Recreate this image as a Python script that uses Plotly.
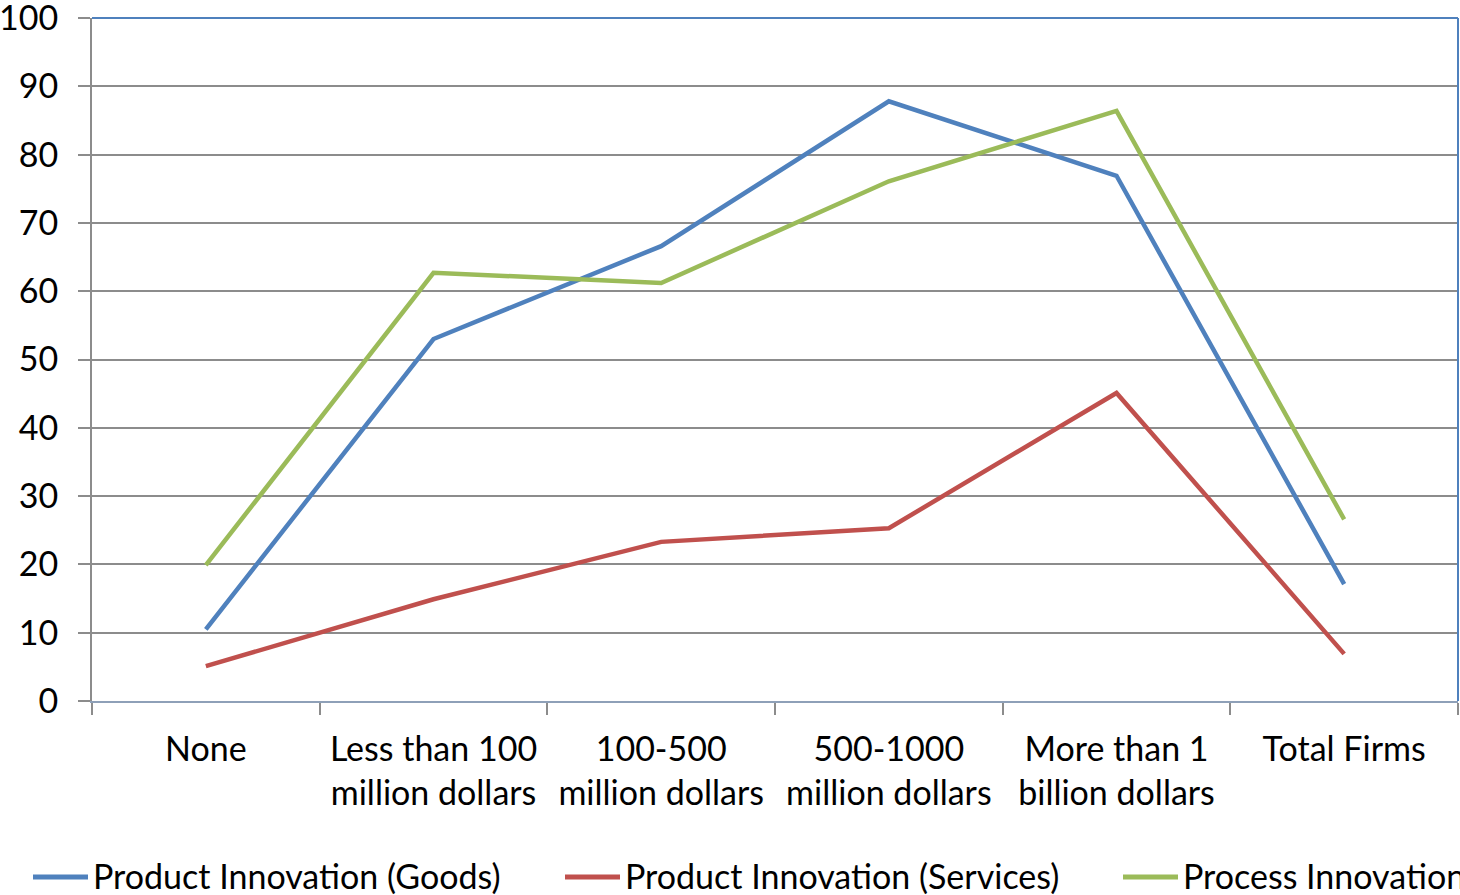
import plotly.graph_objects as go

categories = ["None", "Less than 100<br>million dollars", "100-500<br>million dollars",
              "500-1000<br>million dollars", "More than 1<br>billion dollars", "Total Firms"]
goods = [10.5, 53.0, 66.6, 87.8, 76.9, 17.1]
services = [5.1, 14.9, 23.3, 25.3, 45.1, 6.9]
process = [19.9, 62.7, 61.2, 76.1, 86.4, 26.6]
series_names = ["Product Innovation (Goods)", "Product Innovation (Services)", "Process Innovation"]
colors = ["#4F81BD", "#C0504D", "#9BBB59"]
y_ticks = list(range(0, 101, 10))

FONT = "Lato"
FS = 34

fig = go.Figure()
for name, vals, c in zip(series_names, [goods, services, process], colors):
    fig.add_trace(go.Scatter(x=categories, y=vals, mode="lines", name=name,
                             line=dict(color=c, width=4.5), showlegend=False))

fig.update_layout(
    width=1460, height=895,
    margin=dict(l=92, r=2, t=18, b=194),
    plot_bgcolor="white", paper_bgcolor="white",
    font=dict(family=FONT, size=FS, color="black"),
    xaxis=dict(type="category", range=[-0.5, 5.5], tickson="boundaries", ticks="outside",
               ticklen=12, tickcolor="#8C8C8C", tickwidth=2, showline=True,
               linecolor="#8EA0B8", linewidth=2, showgrid=False, ticklabelstandoff=17,
               automargin=False, ticklabeloverflow="allow",
               tickfont=dict(family=FONT, size=FS)),
    yaxis=dict(range=[0, 100], tickvals=y_ticks, ticks="outside", ticklen=12,
               tickcolor="#8C8C8C", tickwidth=2, showline=True, linecolor="#8C8C8C",
               linewidth=2, gridcolor="#8C8C8C", gridwidth=1.5, zeroline=False,
               ticklabelstandoff=13, automargin=False, ticklabeloverflow="allow",
               tickfont=dict(family=FONT, size=FS)),
)

# plot area border (top and right)
fig.add_shape(type="line", xref="paper", yref="paper", x0=0, x1=1, y0=1, y1=1,
              line=dict(color="#4F81BD", width=2))
fig.add_shape(type="line", xref="paper", yref="paper", x0=1, x1=1, y0=0, y1=1,
              line=dict(color="#4F81BD", width=2))

# legend drawn manually (reference legend is clipped at the right edge)
leg_x = [33, 565, 1123]
leg_y = -(875 - 701) / 683
for name, c, lx in zip(series_names, colors, leg_x):
    fig.add_shape(type="line", xref="paper", yref="paper",
                  x0=(lx - 92) / 1366, x1=(lx + 55 - 92) / 1366,
                  y0=-(877 - 701) / 683, y1=-(877 - 701) / 683,
                  line=dict(color=c, width=5))
    fig.add_annotation(text=name, xref="paper", yref="paper",
                       x=(lx + 58 - 92) / 1366, y=leg_y,
                       xanchor="left", yanchor="middle", showarrow=False,
                       font=dict(family=FONT, size=FS, color="black"))

fig.write_html("out.html")
